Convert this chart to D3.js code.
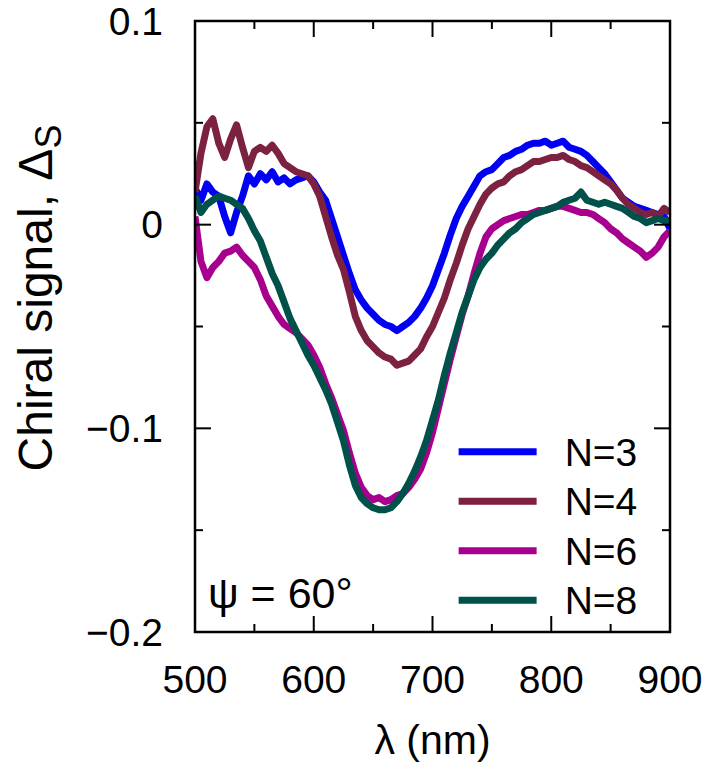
<!DOCTYPE html>
<html>
<head>
<meta charset="utf-8">
<script src="https://cdn.jsdelivr.net/npm/d3@7"></script>
<style>
  body { margin: 0; background: #fff; }
  text { font-family: "Liberation Sans", Arial, sans-serif; fill: #000; }
</style>
</head>
<body>
<div id="wrapper"></div>
<script>
// wavelengths (nm), 5 nm steps
const lambda = d3.range(500, 901, 5)

const n3 = [0.018, 0.012, 0.020, 0.016, 0.014, 0.004, -0.004, 0.006, 0.014, 0.024,
  0.020, 0.025, 0.022, 0.026, 0.021, 0.023, 0.020, 0.022, 0.023, 0.024,
  0.021, 0.016, 0.012, 0.003, -0.006, -0.015, -0.024, -0.032, -0.037, -0.041,
  -0.044, -0.047, -0.049, -0.050, -0.052, -0.050, -0.048, -0.045, -0.041, -0.036,
  -0.030, -0.022, -0.014, -0.005, 0.003, 0.009, 0.014, 0.019, 0.024, 0.026,
  0.027, 0.030, 0.033, 0.034, 0.036, 0.037, 0.039, 0.040, 0.040, 0.041,
  0.039, 0.040, 0.041, 0.038, 0.037, 0.036, 0.034, 0.031, 0.028, 0.025,
  0.021, 0.017, 0.013, 0.011, 0.009, 0.008, 0.007, 0.006, 0.005, 0.004, -0.002]

const n4 = [0.016, 0.035, 0.048, 0.052, 0.040, 0.033, 0.042, 0.049, 0.038, 0.028,
  0.036, 0.038, 0.036, 0.039, 0.035, 0.030, 0.028, 0.026, 0.025, 0.024,
  0.020, 0.014, 0.004, -0.006, -0.015, -0.022, -0.033, -0.045, -0.052, -0.057,
  -0.060, -0.063, -0.065, -0.066, -0.069, -0.068, -0.067, -0.064, -0.061, -0.055,
  -0.050, -0.043, -0.036, -0.027, -0.019, -0.010, -0.002, 0.004, 0.010, 0.015,
  0.018, 0.020, 0.021, 0.024, 0.026, 0.027, 0.029, 0.031, 0.031, 0.032,
  0.033, 0.033, 0.034, 0.032, 0.031, 0.029, 0.028, 0.026, 0.024, 0.022,
  0.020, 0.017, 0.013, 0.010, 0.008, 0.006, 0.005, 0.006, 0.004, 0.008, 0.006]

const n6 = [0.004, -0.018, -0.026, -0.021, -0.018, -0.014, -0.013, -0.011, -0.015, -0.018,
  -0.021, -0.027, -0.035, -0.040, -0.045, -0.049, -0.051, -0.053, -0.056, -0.059,
  -0.064, -0.070, -0.078, -0.085, -0.093, -0.101, -0.112, -0.122, -0.129, -0.133,
  -0.135, -0.134, -0.136, -0.135, -0.133, -0.132, -0.129, -0.125, -0.120, -0.112,
  -0.102, -0.090, -0.078, -0.066, -0.055, -0.044, -0.035, -0.024, -0.014, -0.006,
  -0.002, 0.000, 0.002, 0.003, 0.004, 0.005, 0.005, 0.006, 0.007, 0.007,
  0.008, 0.009, 0.009, 0.008, 0.007, 0.006, 0.006, 0.005, 0.003, 0.001,
  -0.002, -0.004, -0.007, -0.009, -0.011, -0.013, -0.016, -0.014, -0.011, -0.006, -0.003]

const n8 = [0.014, 0.006, 0.010, 0.012, 0.014, 0.013, 0.012, 0.010, 0.008, 0.003,
  -0.003, -0.008, -0.016, -0.024, -0.030, -0.038, -0.046, -0.052, -0.058, -0.064,
  -0.069, -0.075, -0.081, -0.088, -0.097, -0.106, -0.118, -0.128, -0.134, -0.137,
  -0.139, -0.140, -0.140, -0.139, -0.136, -0.132, -0.127, -0.121, -0.114, -0.106,
  -0.096, -0.086, -0.074, -0.063, -0.053, -0.043, -0.035, -0.027, -0.021, -0.017,
  -0.014, -0.010, -0.007, -0.004, -0.002, 0.001, 0.003, 0.005, 0.006, 0.007,
  0.008, 0.009, 0.011, 0.012, 0.013, 0.016, 0.012, 0.011, 0.010, 0.011,
  0.010, 0.009, 0.008, 0.006, 0.004, 0.003, 0.001, 0.002, 0.003, 0.002, 0.002]

const seriesNames = ["N=3", "N=4", "N=6", "N=8"]
const seriesColors = ["#0000f2", "#7d2141", "#a8008e", "#00514a"]
const seriesValues = [n3, n4, n6, n8]

const xTicks = [500, 600, 700, 800, 900]
const xMinorTicks = [550, 650, 750, 850]
const yTicks = [0.1, 0, -0.1, -0.2]
const yMinorTicks = [0.05, -0.05, -0.15]

// dimensions
const width = 714
const height = 776
const margin = { top: 21, right: 44, bottom: 144, left: 195 }
const boundedWidth = width - margin.left - margin.right
const boundedHeight = height - margin.top - margin.bottom

const svg = d3.select("#wrapper").append("svg")
    .attr("width", width)
    .attr("height", height)

const bounds = svg.append("g")
    .attr("transform", `translate(${margin.left},${margin.top})`)

// scales
const xScale = d3.scaleLinear().domain([500, 900]).range([0, boundedWidth])
const yScale = d3.scaleLinear().domain([-0.2, 0.1]).range([boundedHeight, 0])

bounds.append("clipPath").attr("id", "clip")
  .append("rect").attr("width", boundedWidth).attr("height", boundedHeight)

// lines
const lineGen = d3.line()
    .x((d, i) => xScale(lambda[i]))
    .y(d => yScale(d))

bounds.append("g").attr("clip-path", "url(#clip)")
  .selectAll("path")
  .data(seriesValues)
  .join("path")
    .attr("d", lineGen)
    .attr("fill", "none")
    .attr("stroke", (d, i) => seriesColors[i])
    .attr("stroke-width", 7)
    .attr("stroke-linejoin", "round")

// ticks, inward on all four sides
const majorLen = 16, minorLen = 8
const tickG = bounds.append("g").attr("stroke", "#000").attr("stroke-width", 2)
const xAll = xTicks.map(v => [v, majorLen]).concat(xMinorTicks.map(v => [v, minorLen]))
const yAll = yTicks.map(v => [v, majorLen]).concat(yMinorTicks.map(v => [v, minorLen]))
xAll.forEach(([v, len]) => {
  tickG.append("line").attr("x1", xScale(v)).attr("x2", xScale(v))
    .attr("y1", boundedHeight).attr("y2", boundedHeight - len)
  tickG.append("line").attr("x1", xScale(v)).attr("x2", xScale(v))
    .attr("y1", 0).attr("y2", len)
})
yAll.forEach(([v, len]) => {
  tickG.append("line").attr("y1", yScale(v)).attr("y2", yScale(v))
    .attr("x1", 0).attr("x2", len)
  tickG.append("line").attr("y1", yScale(v)).attr("y2", yScale(v))
    .attr("x1", boundedWidth).attr("x2", boundedWidth - len)
})

// frame
bounds.append("rect")
    .attr("width", boundedWidth)
    .attr("height", boundedHeight)
    .attr("fill", "none")
    .attr("stroke", "#000")
    .attr("stroke-width", 2.5)

// tick labels
const fontSize = 39
bounds.append("g").selectAll("text")
  .data(xTicks)
  .join("text")
    .attr("x", d => xScale(d))
    .attr("y", boundedHeight + 61)
    .attr("text-anchor", "middle")
    .style("font-size", fontSize + "px")
    .text(d => d)

const yFormat = d => d === 0 ? "0" : (d < 0 ? "\u2212" : "") + Math.abs(d).toFixed(1)
bounds.append("g").selectAll("text")
  .data(yTicks)
  .join("text")
    .attr("x", -32)
    .attr("y", d => yScale(d))
    .attr("dy", "0.35em")
    .attr("text-anchor", "end")
    .style("font-size", fontSize + "px")
    .text(yFormat)

// axis titles
bounds.append("text")
    .attr("x", boundedWidth / 2)
    .attr("y", boundedHeight + 122)
    .attr("text-anchor", "middle")
    .style("font-size", "41px")
    .text("\u03bb (nm)")

const yTitle = svg.append("text")
    .attr("transform", `translate(52,298) rotate(-90)`)
    .attr("text-anchor", "middle")
    .style("font-size", "48px")
yTitle.append("tspan").text("Chiral signal, \u0394")
yTitle.append("tspan").attr("dy", 9).style("font-size", "36px").text("S")

// legend
const legend = bounds.append("g")
    .attr("transform", `translate(${xScale(722)},${yScale(-0.1115)})`)
const legendRows = legend.selectAll("g")
  .data(seriesNames)
  .join("g")
    .attr("transform", (d, i) => `translate(0,${i * 49.5})`)
legendRows.append("line")
    .attr("x1", 0).attr("x2", 78)
    .attr("stroke", (d, i) => seriesColors[i])
    .attr("stroke-width", 7)
legendRows.append("text")
    .attr("x", 106)
    .attr("y", 14)
    .style("font-size", fontSize + "px")
    .text(d => d)

// annotation
bounds.append("text")
    .attr("x", 13)
    .attr("y", boundedHeight - 24)
    .style("font-size", "43px")
    .text("\u03c8 = 60\u00b0")
</script>
</body>
</html>
